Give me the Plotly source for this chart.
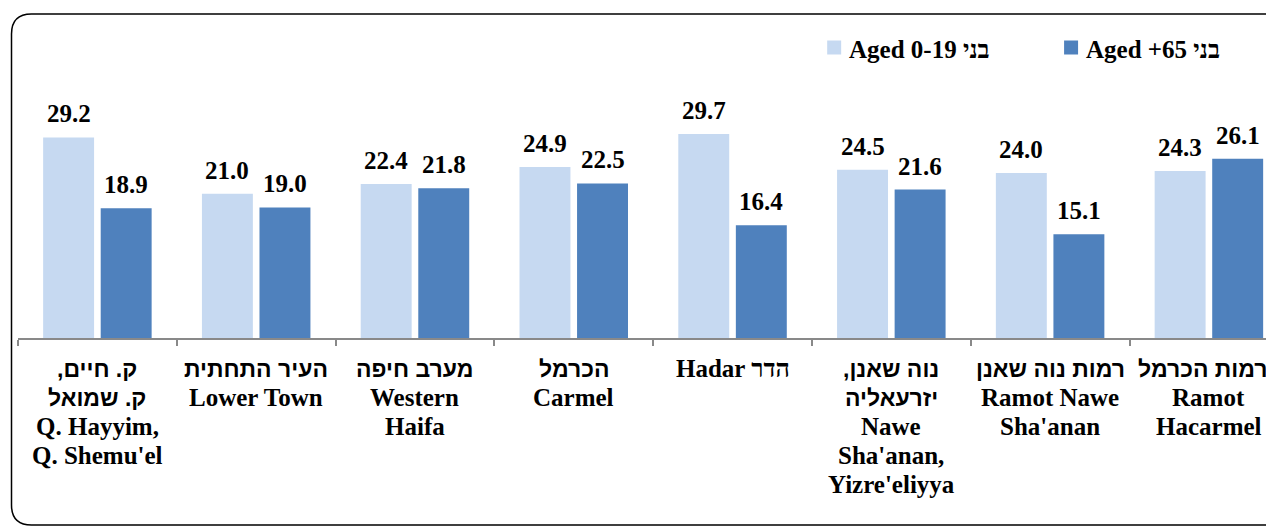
import plotly.graph_objects as go

# ---- data ----
categories = ["Q. Hayyim", "Lower Town", "Western Haifa", "Carmel", "Hadar",
              "Nawe Sha'anan", "Ramot Nawe Sha'anan", "Ramot Hacarmel"]
label_lines = [
    ["ק. חיים,\u200f", "ק. שמואל", "Q. Hayyim,", "Q. Shemu'el"],
    ["העיר התחתית", "Lower Town"],
    ["מערב חיפה", "Western", "Haifa"],
    ["הכרמל", "Carmel"],
    ["Hadar הדר"],
    ["נוה שאנן,\u200f", "יזרעאליה", "Nawe", "Sha'anan,", "Yizre'eliyya"],
    ["רמות נוה שאנן", "Ramot Nawe", "Sha'anan"],
    ["רמות הכרמל", "Ramot", "Hacarmel"],
]
series_names = ["Aged 0-19 בני", "Aged +65 בני"]
aged_0_19 = [29.2, 21.0, 22.4, 24.9, 29.7, 24.5, 24.0, 24.3]
aged_65 = [18.9, 19.0, 21.8, 22.5, 16.4, 21.6, 15.1, 26.1]
colors = ["#C6D9F1", "#4F81BD"]

# ---- layout geometry (screen pixels; page has an 8px body margin) ----
OFF = 8
W, H = 1274 - OFF, 527 - OFF
BASE_S = 338
LEFT_S = 17.5
ML, MR, MT = LEFT_S - OFF, 0, 60 - OFF
MB = H - (BASE_S - OFF)
PW, PH = W - ML - MR, H - MT - MB


def px(X):
    return (X - OFF - ML) / PW


def py(Y):
    return (BASE_S - Y) / PH


SERIF = "Liberation Serif, 'Times New Roman', Times, serif"
SANS = "Liberation Sans, Arial, DejaVu Sans, sans-serif"

fig = go.Figure()
for name, vals, col in zip(series_names, [aged_0_19, aged_65], colors):
    fig.add_trace(go.Bar(x=categories, y=vals, name=name, marker_color=col,
                         marker_line_width=0, showlegend=False))

# value labels
half = 28.8
annotations = []
for vals, sgn in [(aged_0_19, -1), (aged_65, 1)]:
    for i, v in enumerate(vals):
        annotations.append(dict(x=i, y=v, xref="x", yref="y", xshift=sgn * half,
                                yshift=8, yanchor="bottom", showarrow=False,
                                text=f"<b>{v:.1f}</b>",
                                font=dict(family=SERIF, size=25, color="black")))


def is_heb(s):
    return any('\u0590' <= c <= '\u05ff' for c in s) and not any(c.isascii() and c.isalpha() for c in s)


# category labels, one annotation per line (last one nudged to stay inside the frame)
n = len(label_lines)
for i, lines in enumerate(label_lines):
    for k, line in enumerate(lines):
        heb = is_heb(line)
        annotations.append(dict(x=i, y=0, xref="x", yref="paper", yanchor="middle",
                                xshift=-6 if (i == n - 1 and heb) else 0,
                                yshift=-(368.5 + 29.0 * k - BASE_S), showarrow=False,
                                text=f"<b>{line}</b>",
                                font=dict(family=SANS if heb else SERIF,
                                          size=23 if heb else 25, color="black")))

shapes = []
# legend (drawn by hand so it cannot push the margins)
legend_x = [827, 1064]
for name, col, lx in zip(series_names, colors, legend_x):
    shapes.append(dict(type="rect", xref="paper", yref="paper",
                       x0=px(lx), x1=px(lx + 14), y0=py(54.5), y1=py(40.5),
                       fillcolor=col, line=dict(width=0)))
    annotations.append(dict(x=px(lx + 20), y=py(49), xref="paper", yref="paper",
                            xanchor="left", yanchor="middle", showarrow=False,
                            text=f"<b>{name}</b>",
                            font=dict(family=SERIF, size=25, color="black")))

# rounded border
x0, x1, y0, y1, r = 11, 1284, 14, 525, 20
pts = lambda X, Y: f"{px(X):.5f},{py(Y):.5f}"
path = (f"M{pts(x0, y0 + r)} Q{pts(x0, y0)} {pts(x0 + r, y0)} L{pts(x1 - r, y0)} "
        f"Q{pts(x1, y0)} {pts(x1, y0 + r)} L{pts(x1, y1 - r)} Q{pts(x1, y1)} {pts(x1 - r, y1)} "
        f"L{pts(x0 + r, y1)} Q{pts(x0, y1)} {pts(x0, y1 - r)} Z")
shapes.append(dict(type="path", path=path, xref="paper", yref="paper",
                   line=dict(color="black", width=1.5), fillcolor="rgba(0,0,0,0)"))

fig.update_layout(
    width=W, height=H,
    margin=dict(l=ML, r=MR, t=MT, b=MB, pad=0),
    paper_bgcolor="white", plot_bgcolor="white",
    font=dict(family=SERIF),
    barmode="group", bargap=0.275, bargroupgap=0.115,
    showlegend=False,
    xaxis=dict(type="category", range=[-0.5, 7.41], showticklabels=False,
               showline=True, linecolor="#898989", linewidth=2,
               ticks="outside", tickson="boundaries", ticklen=6, tickcolor="#898989",
               tickwidth=1.5, showgrid=False, zeroline=False, fixedrange=True),
    yaxis=dict(range=[0, PH / 6.87], visible=False, showgrid=False, zeroline=False),
    annotations=annotations,
    shapes=shapes,
)

fig.write_html("out.html")
